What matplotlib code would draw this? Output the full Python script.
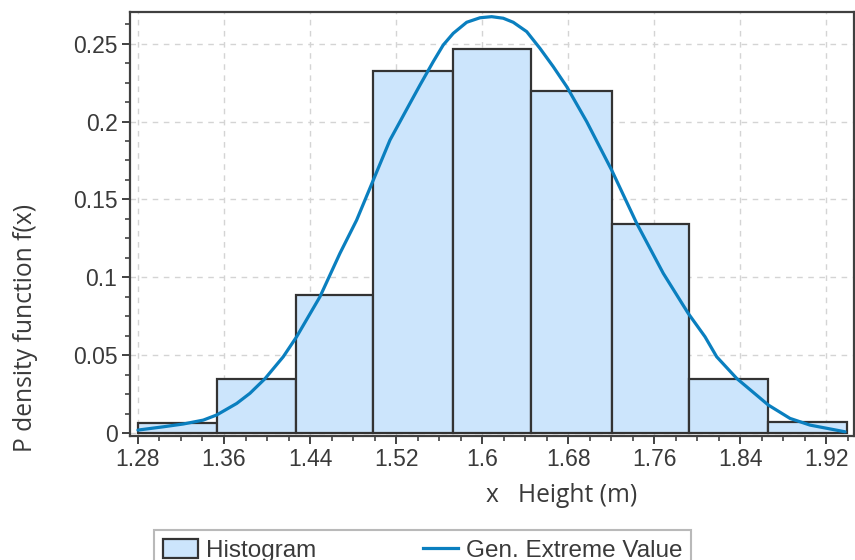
import matplotlib
matplotlib.use("Agg")
import matplotlib.pyplot as plt
from matplotlib.ticker import MultipleLocator, FixedLocator
from matplotlib.patches import Patch
from matplotlib.lines import Line2D

# histogram (relative frequency per bin)
bin_edges = [1.2800, 1.3532, 1.4266, 1.4985, 1.5729, 1.6454, 1.7204, 1.7922, 1.8654, 1.9396]
bin_heights = [0.0066, 0.0347, 0.0886, 0.2324, 0.2465, 0.2197, 0.1342, 0.0347, 0.0069]

# fitted Gen. Extreme Value curve
curve_x = [1.2800, 1.3035, 1.3221, 1.3407, 1.3532, 1.3718, 1.3841, 1.3981, 1.4151,
           1.4275, 1.4492, 1.4678, 1.4833, 1.4988, 1.5143, 1.5329, 1.5422, 1.5545,
           1.5638, 1.5731, 1.5856, 1.5980, 1.6088, 1.6196, 1.6289, 1.6414, 1.6537,
           1.6661, 1.6786, 1.6972, 1.7204, 1.7437, 1.7684, 1.7916, 1.8072, 1.8180,
           1.8366, 1.8660, 1.8862, 1.9048, 1.9374]
curve_y = [0.0019, 0.0040, 0.0058, 0.0083, 0.0116, 0.0190, 0.0255, 0.0349, 0.0490,
           0.0618, 0.0875, 0.1154, 0.1367, 0.1624, 0.1881, 0.2117, 0.2234, 0.2384,
           0.2491, 0.2566, 0.2637, 0.2666, 0.2673, 0.2663, 0.2637, 0.2577, 0.2470,
           0.2352, 0.2224, 0.1999, 0.1688, 0.1346, 0.1025, 0.0768, 0.0618, 0.0490,
           0.0351, 0.0180, 0.0094, 0.0051, 0.0008]

x_ticks = [1.28, 1.36, 1.44, 1.52, 1.6, 1.68, 1.76, 1.84, 1.92]
x_ticklabels = ["1.28", "1.36", "1.44", "1.52", "1.6", "1.68", "1.76", "1.84", "1.92"]
y_ticks = [0, 0.05, 0.1, 0.15, 0.2, 0.25]
y_ticklabels = ["0", "0.05", "0.1", "0.15", "0.2", "0.25"]

bar_color = "#cce5fc"
edge_color = "#333333"
line_color = "#0a7fbf"
text_color = "#3a3a3a"
tick_font = "Liberation Sans"

fig = plt.figure(figsize=(8.55, 5.6), dpi=100)
ax = fig.add_axes([130 / 855, 124 / 560, 724 / 855, 424 / 560])

widths = [bin_edges[i + 1] - bin_edges[i] for i in range(len(bin_heights))]
ax.bar(bin_edges[:-1], bin_heights, width=widths, align="edge",
       color=bar_color, edgecolor=edge_color, linewidth=1.6, zorder=2)
ax.plot(curve_x, curve_y, color=line_color, linewidth=2.3, zorder=3,
        solid_capstyle="round", solid_joinstyle="round")

ax.set_xlim(1.2726, 1.9457)
ax.set_ylim(-0.0019, 0.2703)

ax.xaxis.set_major_locator(FixedLocator(x_ticks))
ax.set_xticklabels(x_ticklabels)
ax.xaxis.set_minor_locator(MultipleLocator(0.02))
ax.yaxis.set_major_locator(FixedLocator(y_ticks))
ax.set_yticklabels(y_ticklabels)
ax.yaxis.set_minor_locator(MultipleLocator(0.0125))

ax.tick_params(which="major", direction="out", length=6, width=1.3,
               color=edge_color, labelsize=16.5, labelcolor=text_color, pad=3)
ax.tick_params(which="minor", direction="out", length=3.5, width=1.1, color=edge_color)
for lab in ax.get_xticklabels() + ax.get_yticklabels():
    lab.set_family(tick_font)

ax.grid(True, which="major", color="#d4d4d4", linestyle=(0, (4, 4)), linewidth=1.0, zorder=0)
ax.set_axisbelow(True)
for sp in ax.spines.values():
    sp.set_color("#404040")
    sp.set_linewidth(1.6)

fig.text(562 / 855, 1 - 495 / 560, "x   Height (m)", ha="center", va="center",
         fontsize=17.7, family="Open Sans", color=text_color)
fig.text(25 / 855, 1 - 328 / 560, "P density function f(x)", ha="center", va="center",
         rotation=90, fontsize=17.7, family="Open Sans", color=text_color)

handles = [Patch(facecolor=bar_color, edgecolor=edge_color, linewidth=1.6),
           Line2D([0], [0], color=line_color, linewidth=2.3)]
leg = fig.legend(handles, ["Histogram", "Gen. Extreme Value"], ncol=2,
                 loc="upper left", bbox_to_anchor=(154 / 855, 1 - 530 / 560),
                 borderaxespad=0, frameon=True, fancybox=False,
                 prop={"family": tick_font, "size": 17.5},
                 handlelength=1.45, handleheight=0.85, handletextpad=0.33,
                 columnspacing=4.4, borderpad=0.35)
leg.get_frame().set_edgecolor("#a8a8a8")
leg.get_frame().set_linewidth(1.5)
for t in leg.get_texts():
    t.set_color(text_color)

fig.savefig("out.png", dpi=100)
